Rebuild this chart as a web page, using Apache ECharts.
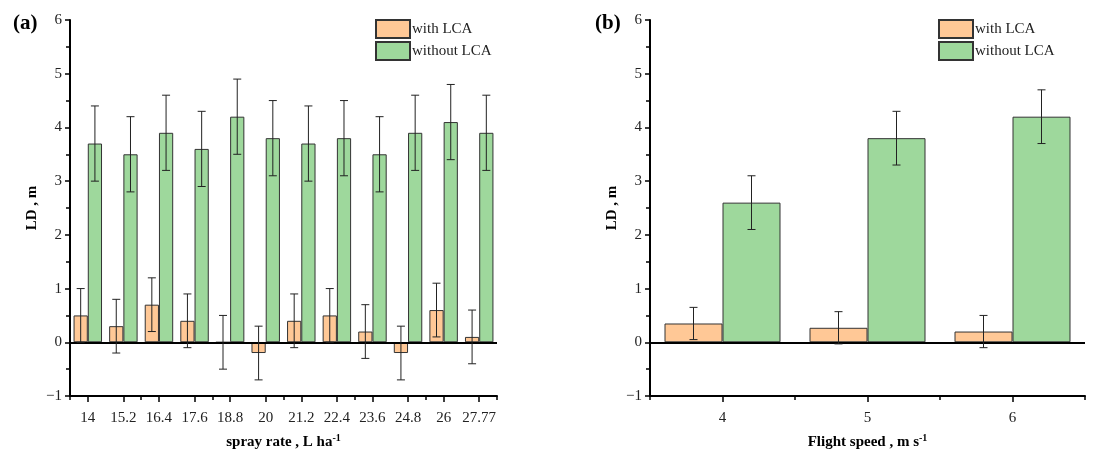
<!DOCTYPE html>
<html>
<head>
<meta charset="utf-8">
<script src="https://cdn.jsdelivr.net/npm/echarts@6/dist/echarts.min.js"></script>
<style>
html, body { margin: 0; padding: 0; background: #fff; }
#main { width: 1110px; height: 458px; }
</style>
</head>
<body>
<div id="main"></div>
<script>
// panel (a): spray rate
var rateCats = ['14', '15.2', '16.4', '17.6', '18.8', '20', '21.2', '22.4', '23.6', '24.8', '26', '27.77'];
var rateWith = [0.5, 0.3, 0.7, 0.4, 0, -0.2, 0.4, 0.5, 0.2, -0.2, 0.6, 0.1];
var rateWithErr = [0.5, 0.5, 0.5, 0.5, 0.5, 0.5, 0.5, 0.5, 0.5, 0.5, 0.5, 0.5];
var rateWithout = [3.7, 3.5, 3.9, 3.6, 4.2, 3.8, 3.7, 3.8, 3.5, 3.9, 4.1, 3.9];
var rateWithoutErr = [0.7, 0.7, 0.7, 0.7, 0.7, 0.7, 0.7, 0.7, 0.7, 0.7, 0.7, 0.7];

// panel (b): flight speed
var speedCats = ['4', '5', '6'];
var speedWith = [0.35, 0.27, 0.2];
var speedWithErr = [0.3, 0.3, 0.3];
var speedWithout = [2.6, 3.8, 4.2];
var speedWithoutErr = [0.5, 0.5, 0.5];

var cWith = '#FFC896';
var cWithout = '#9ED89C';
var font = 'Liberation Serif';

var myChart = echarts.init(document.getElementById('main'));

function errSeries(name, gi, vals, errs, side) {
    var data = [];
    for (var i = 0; i < vals.length; i++) {
        data.push([i, vals[i], errs[i]]);
    }
    return {
        name: name,
        type: 'custom',
        xAxisIndex: gi * 2,
        yAxisIndex: gi,
        data: data,
        z: 5,
        silent: true,
        renderItem: function(params, api) {
            var idx = api.value(0);
            var band = api.size([1, 0])[0];
            var off = side * 0.2 * band;
            var hi = api.coord([idx, api.value(1) + api.value(2)]);
            var lo = api.coord([idx, api.value(1) - api.value(2)]);
            var x = hi[0] + off;
            var cap = 4;
            var st = { stroke: '#222', lineWidth: 1 };
            return {
                type: 'group',
                children: [
                    { type: 'line', shape: { x1: x, y1: hi[1], x2: x, y2: lo[1] }, style: st },
                    { type: 'line', shape: { x1: x - cap, y1: hi[1], x2: x + cap, y2: hi[1] }, style: st },
                    { type: 'line', shape: { x1: x - cap, y1: lo[1], x2: x + cap, y2: lo[1] }, style: st }
                ]
            };
        }
    };
}

function xAxes(gi, cats, title) {
    return [{
        type: 'category',
        gridIndex: gi,
        position: 'bottom',
        data: cats,
        axisLine: { onZero: false, lineStyle: { color: '#000', width: 2 } },
        axisTick: { show: true, length: 4, lineStyle: { color: '#000', width: 1.5 } },
        axisLabel: { show: false },
        name: title,
        nameLocation: 'middle',
        nameGap: 37,
        nameTextStyle: {
            fontFamily: font, fontSize: 15, fontWeight: 'bold', color: '#000',
            rich: {
                b: { fontFamily: font, fontSize: 15, fontWeight: 'bold', color: '#000' },
                sup: { fontFamily: font, fontSize: 10, fontWeight: 'bold', color: '#000', padding: [0, 0, 8, 0] }
            }
        }
    }, {
        type: 'category',
        gridIndex: gi,
        position: 'bottom',
        data: cats,
        axisLine: { show: false, onZero: false },
        axisTick: { show: true, alignWithLabel: true, interval: 0, length: 6, lineStyle: { color: '#000', width: 1.5 } },
        axisLabel: { fontFamily: font, fontSize: 15, color: '#222', margin: 15, interval: 0 }
    }];
}

function yAxis(gi) {
    return {
        type: 'value',
        gridIndex: gi,
        min: -1,
        max: 6,
        interval: 1,
        name: 'LD , m',
        nameLocation: 'middle',
        nameGap: 30,
        nameTextStyle: { fontFamily: font, fontSize: 15, fontWeight: 'bold', color: '#000' },
        axisLine: { show: true, lineStyle: { color: '#000', width: 2 } },
        axisTick: { show: true, length: 5, lineStyle: { color: '#000', width: 1.5 } },
        minorTick: { show: true, splitNumber: 2, length: 4, lineStyle: { color: '#000', width: 1.5 } },
        splitLine: { show: false },
        axisLabel: {
            fontFamily: font, fontSize: 15, color: '#222', margin: 8,
            formatter: function(v) { return v < 0 ? '\u2212' + Math.abs(v) : String(v); }
        }
    };
}

function barSeries(name, gi, vals, color, zeroLine) {
    var s = {
        name: name,
        type: 'bar',
        xAxisIndex: gi * 2,
        yAxisIndex: gi,
        data: vals,
        barWidth: '40%',
        barGap: '0%',
        itemStyle: { color: color, borderColor: '#333', borderWidth: 1 }
    };
    if (zeroLine) {
        s.markLine = {
            silent: true,
            symbol: 'none',
            label: { show: false },
            lineStyle: { color: '#000', width: 2, type: 'solid' },
            data: [{ yAxis: 0 }]
        };
    }
    return s;
}

function legend(gi, left) {
    return {
        left: left,
        top: 14,
        orient: 'vertical',
        itemWidth: 34,
        itemHeight: 18,
        itemGap: 2,
        icon: 'rect',
        data: ['with LCA', 'without LCA'],
        textStyle: { fontFamily: font, fontSize: 15, color: '#222', padding: [0, 0, 0, -3] }
    };
}

option = {
    backgroundColor: '#fff',
    animation: false,
    title: [{
        text: '(a)', left: 8, top: 8,
        textStyle: { fontFamily: font, fontSize: 21, fontWeight: 'bold', color: '#000' }
    }, {
        text: '(b)', left: 590, top: 8,
        textStyle: { fontFamily: font, fontSize: 21, fontWeight: 'bold', color: '#000' }
    }],
    legend: [legend(0, 370), legend(1, 933)],
    grid: [
        { left: 70, right: 613, top: 20, bottom: 62 },
        { left: 650, right: 25, top: 20, bottom: 62 }
    ],
    xAxis: xAxes(0, rateCats, '{b|spray rate , L ha}{sup|-1}').concat(xAxes(1, speedCats, '{b|Flight speed , m s}{sup|-1}')),
    yAxis: [yAxis(0), yAxis(1)],
    series: [
        barSeries('with LCA', 0, rateWith, cWith, true),
        barSeries('without LCA', 0, rateWithout, cWithout, false),
        errSeries('errA1', 0, rateWith, rateWithErr, -1),
        errSeries('errA2', 0, rateWithout, rateWithoutErr, 1),
        barSeries('with LCA', 1, speedWith, cWith, true),
        barSeries('without LCA', 1, speedWithout, cWithout, false),
        errSeries('errB1', 1, speedWith, speedWithErr, -1),
        errSeries('errB2', 1, speedWithout, speedWithoutErr, 1)
    ]
};
myChart.setOption(option);
</script>
</body>
</html>
